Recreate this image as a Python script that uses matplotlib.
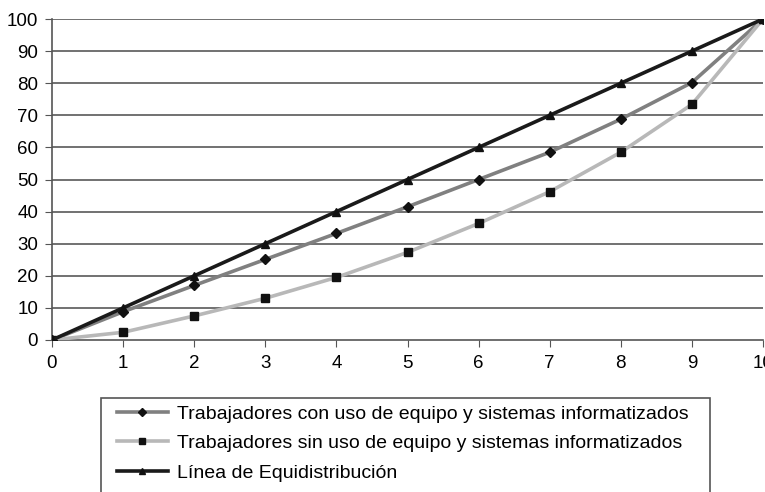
import matplotlib.pyplot as plt
from matplotlib.lines import Line2D
from matplotlib.patches import Rectangle

plt.rcParams['font.family'] = ['Liberation Sans', 'DejaVu Sans']

deciles = [0, 1, 2, 3, 4, 5, 6, 7, 8, 9, 10]
con_equipo = [0, 8.8, 17.0, 25.1, 33.2, 41.5, 50.0, 58.5, 68.8, 80.2, 100]
sin_equipo = [0, 2.4, 7.5, 13.0, 19.5, 27.3, 36.3, 46.2, 58.5, 73.4, 100]
equidistribucion = [0, 10, 20, 30, 40, 50, 60, 70, 80, 90, 100]
labels = ['Trabajadores con uso de equipo y sistemas informatizados',
          'Trabajadores sin uso de equipo y sistemas informatizados',
          'Línea de Equidistribución']


def main():
    fig = plt.figure(figsize=(7.65, 4.92), dpi=100)
    ax = fig.add_axes([52 / 765, 1 - 340 / 492, 711 / 765, 321 / 492])

    for y in range(10, 101, 10):
        ax.axhline(y, color='#4a4a4a', lw=1.1, zorder=1)

    ax.plot(deciles, con_equipo, color='#808080', lw=2.6, marker='D', ms=5,
            mfc='#111111', mec='#111111', zorder=3)
    ax.plot(deciles, sin_equipo, color='#b8b8b8', lw=2.6, marker='s', ms=5.5,
            mfc='#111111', mec='#111111', zorder=3)
    ax.plot(deciles, equidistribucion, color='#1a1a1a', lw=2.6, marker='^', ms=6,
            mfc='#111111', mec='#111111', zorder=4)

    ax.set_xlim(0, 10)
    ax.set_ylim(0, 100)
    ax.set_xticks(deciles)
    ax.set_yticks(range(0, 101, 10))
    ax.tick_params(labelsize=13.5, length=5, color='#555555')
    ax.tick_params(axis='x', pad=6)
    ax.tick_params(axis='y', pad=5)
    for side in ['top', 'right']:
        ax.spines[side].set_visible(False)
    for side in ['left', 'bottom']:
        ax.spines[side].set_color('#555555')
        ax.spines[side].set_linewidth(1.2)
    for lbl in ax.get_xticklabels():
        lbl.set_clip_on(False)

    # legend frame runs off the bottom of the picture
    fig.patches.append(Rectangle((101 / 765, -0.1), 609 / 765, 1.1 - 398 / 492,
                                 transform=fig.transFigure, fill=False,
                                 edgecolor='#555555', lw=1.2))
    handles = [
        Line2D([], [], color='#808080', lw=2.6, marker='D', ms=4.5,
               mfc='#111111', mec='#111111'),
        Line2D([], [], color='#b8b8b8', lw=2.6, marker='s', ms=4.5,
               mfc='#111111', mec='#111111'),
        Line2D([], [], color='#1a1a1a', lw=2.6, marker='^', ms=4.5,
               mfc='#111111', mec='#111111'),
    ]
    fig.legend(handles, labels, loc='upper left',
               bbox_to_anchor=(117 / 765, 1 - 405 / 492), frameon=False,
               fontsize=14, handlelength=2.6, handletextpad=0.5,
               labelspacing=0.62, borderaxespad=0, borderpad=0)

    plt.savefig('out.png', dpi=100)


if __name__ == '__main__':
    main()
